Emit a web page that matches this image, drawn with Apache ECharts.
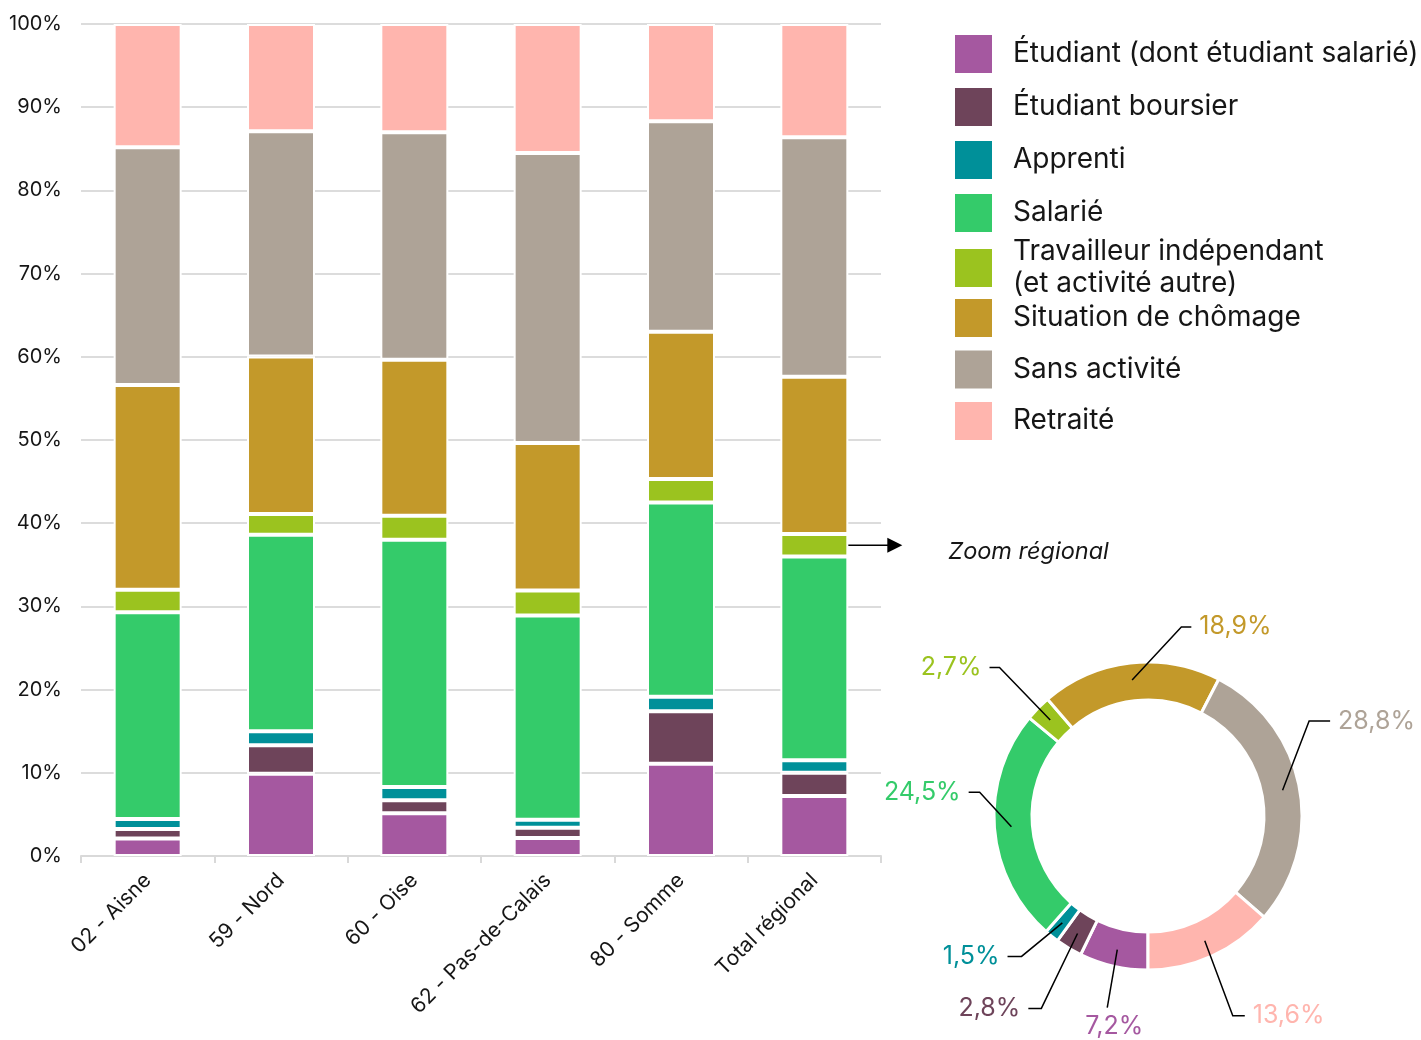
<!DOCTYPE html>
<html>
<head>
<meta charset="utf-8">
<script src="https://cdn.jsdelivr.net/npm/echarts@6/dist/echarts.min.js"></script>
<style>
html, body { margin: 0; padding: 0; background: #fff; }
#chart { width: 1421px; height: 1040px; }
</style>
</head>
<body>
<div id="chart"></div>
<script>
// catégories (axe x)
var categories = ['02 - Aisne', '59 - Nord', '60 - Oise', '62 - Pas-de-Calais', '80 - Somme', 'Total régional'];

var seriesNames = [
    'Étudiant (dont étudiant salarié)',
    'Étudiant boursier',
    'Apprenti',
    'Salarié',
    'Travailleur indépendant (et activité autre)',
    'Situation de chômage',
    'Sans activité',
    'Retraité'
];

// parts en % (du bas vers le haut de chaque barre)
var etudiant     = [2.1, 9.9, 5.15, 2.15, 11.1, 7.2];
var boursier     = [1.15, 3.4, 1.55, 1.25, 6.3, 2.8];
var apprenti     = [1.2, 1.7, 1.6, 0.95, 1.75, 1.5];
var salarie      = [24.85, 23.6, 29.7, 24.55, 23.35, 24.5];
var independant  = [2.7, 2.5, 2.9, 3.0, 2.8, 2.7];
var chomage      = [24.6, 18.95, 18.75, 17.75, 17.7, 18.9];
var sansActivite = [28.6, 27.05, 27.35, 34.85, 25.3, 28.8];
var retraite     = [14.8, 12.9, 13.0, 15.5, 11.7, 13.6];

var values = [etudiant, boursier, apprenti, salarie, independant, chomage, sansActivite, retraite];

var colors = ['#A558A0', '#6E445A', '#009099', '#34CB6A', '#9BC31F', '#C3992A', '#AEA397', '#FFB5AE'];
var FONT = 'Inter';
var TXT = '#161616';

// donut : centre, et placement des étiquettes (angle depuis 6h, sens horaire)
var CX = 1148, CY = 816;
var labelAngle  = [12, 29, 42, 98, 135, 190, 239.5, 337];
var labelRadius = [196, 220, 189, 170, 210, 192, 187, 217];
var labelArm    = [0, 13, 14, 11, 10, 10, 21, 12];
var labelSide   = ['bottom', 'left', 'left', 'left', 'left', 'right', 'right', 'right'];

function pct(v) {
    return v.toFixed(1).replace('.', ',') + '%';
}

function polar(deg, r) {
    var a = deg * Math.PI / 180;
    return [CX - Math.sin(a) * r, CY + Math.cos(a) * r];
}

var chart = echarts.init(document.getElementById('chart'));

var barSeries = seriesNames.map(function (name, i) {
    return {
        name: name,
        type: 'bar',
        stack: 'total',
        barWidth: 68,
        data: values[i],
        itemStyle: { color: colors[i], borderColor: '#fff', borderWidth: 2 },
        emphasis: { disabled: true }
    };
});

// le donut reprend la colonne "Total régional"
var last = categories.length - 1;
var ringData = seriesNames.map(function (name, i) {
    return { name: name, value: values[i][last], itemStyle: { color: colors[i] } };
});
var labelData = seriesNames.map(function (name, i) {
    return { name: name, value: values[i][last], label: { color: colors[i] } };
});

// angle médian de chaque part
var ringTotal = 0;
ringData.forEach(function (d) { ringTotal += d.value; });
var midAngles = [];
var acc = 0;
ringData.forEach(function (d) {
    midAngles.push((acc + d.value / 2) / ringTotal * 360);
    acc += d.value;
});

var legendText = { fontFamily: FONT, fontSize: 28, color: TXT, padding: [0, 0, 0, 16] };

option = {
    animation: false,
    textStyle: { fontFamily: FONT },
    grid: { left: 81, right: 540, top: 24, bottom: 184 },
    legend: [
        {
            data: seriesNames.slice(0, 4),
            orient: 'vertical', left: 955, top: 35, padding: 0,
            itemWidth: 37, itemHeight: 38, itemGap: 15,
            icon: 'rect', selectedMode: false,
            itemStyle: { borderWidth: 0 },
            textStyle: legendText
        },
        {
            data: seriesNames.slice(4, 5),
            orient: 'vertical', left: 955, top: 236, padding: 0,
            itemWidth: 37, itemHeight: 38,
            icon: 'rect', selectedMode: false,
            itemStyle: { borderWidth: 0 },
            formatter: function (name) { return name.replace(' (', '\n('); },
            textStyle: Object.assign({ lineHeight: 32 }, legendText)
        },
        {
            data: seriesNames.slice(5),
            orient: 'vertical', left: 955, top: 299, padding: 0,
            itemWidth: 37, itemHeight: 38, itemGap: 13.5,
            icon: 'rect', selectedMode: false,
            itemStyle: { borderWidth: 0 },
            textStyle: legendText
        }
    ],
    xAxis: {
        type: 'category',
        data: categories,
        axisLine: { lineStyle: { color: '#d9d9d9', width: 2 } },
        axisTick: { show: true, length: 7, lineStyle: { color: '#d9d9d9', width: 2 } },
        axisLabel: { rotate: 45, fontSize: 21, margin: 21, color: TXT, fontFamily: FONT }
    },
    yAxis: {
        type: 'value',
        min: 0, max: 100, interval: 10,
        axisLine: { show: false },
        axisTick: { show: false },
        axisLabel: { formatter: '{value}%', fontSize: 20, margin: 19, color: TXT, fontFamily: FONT },
        splitLine: { lineStyle: { color: '#dcdcdc', width: 2 } }
    },
    series: barSeries.concat([
        {
            name: 'Zoom régional',
            type: 'pie',
            z: 2,
            center: [CX, CY],
            radius: [116, 154],
            startAngle: 270,
            silent: true,
            label: { show: false },
            labelLine: { show: false },
            itemStyle: { borderColor: '#fff', borderWidth: 3 },
            data: ringData
        },
        {
            // série invisible qui porte les étiquettes du donut
            name: 'Étiquettes',
            type: 'pie',
            z: 5,
            center: [CX, CY],
            radius: [0, 137],
            startAngle: 270,
            silent: true,
            itemStyle: { color: 'rgba(0,0,0,0)' },
            label: {
                show: true,
                position: 'outside',
                fontSize: 25,
                fontFamily: FONT,
                overflow: 'none',
                formatter: function (p) { return pct(p.value); }
            },
            labelLine: {
                show: true,
                length: 40,
                length2: 12,
                lineStyle: { color: '#000', width: 1.5 }
            },
            labelLayout: function (params) {
                var i = params.dataIndex;
                var start = polar(midAngles[i], 137);
                var elbow = polar(labelAngle[i], labelRadius[i]);
                if (labelSide[i] === 'bottom') {
                    return {
                        x: elbow[0] + 7, y: elbow[1] + 6,
                        align: 'center', verticalAlign: 'top',
                        labelLinePoints: [start, elbow, elbow]
                    };
                }
                var dir = labelSide[i] === 'right' ? 1 : -1;
                var end = [elbow[0] + dir * labelArm[i], elbow[1]];
                return {
                    x: end[0] + dir * 8, y: end[1],
                    align: dir > 0 ? 'left' : 'right', verticalAlign: 'middle',
                    labelLinePoints: [start, elbow, end]
                };
            },
            data: labelData
        }
    ])
};
chart.setOption(option);

// flèche "Zoom régional" vers le segment indépendant de la barre Total régional
var yMid = 0;
for (var i = 0; i < 4; i++) yMid += values[i][last];
yMid += values[4][last] / 2;
var p = chart.convertToPixel({ gridIndex: 0 }, [last, yMid]);
var x0 = p[0] + 30, y0 = p[1];
chart.setOption({
    graphic: [
        { type: 'line', shape: { x1: x0, y1: y0, x2: x0 + 45, y2: y0 }, style: { stroke: '#000', lineWidth: 1.5 } },
        { type: 'polygon', shape: { points: [[x0 + 43, y0 - 7.5], [x0 + 58, y0], [x0 + 43, y0 + 7.5]] }, style: { fill: '#000' } },
        { type: 'text', x: x0 + 104, y: y0 + 7, style: { text: 'Zoom régional', font: 'italic 23.5px ' + FONT, fill: TXT, verticalAlign: 'middle' } }
    ]
});

window.addEventListener('resize', function () {
    chart.resize();
});
</script>
</body>
</html>
